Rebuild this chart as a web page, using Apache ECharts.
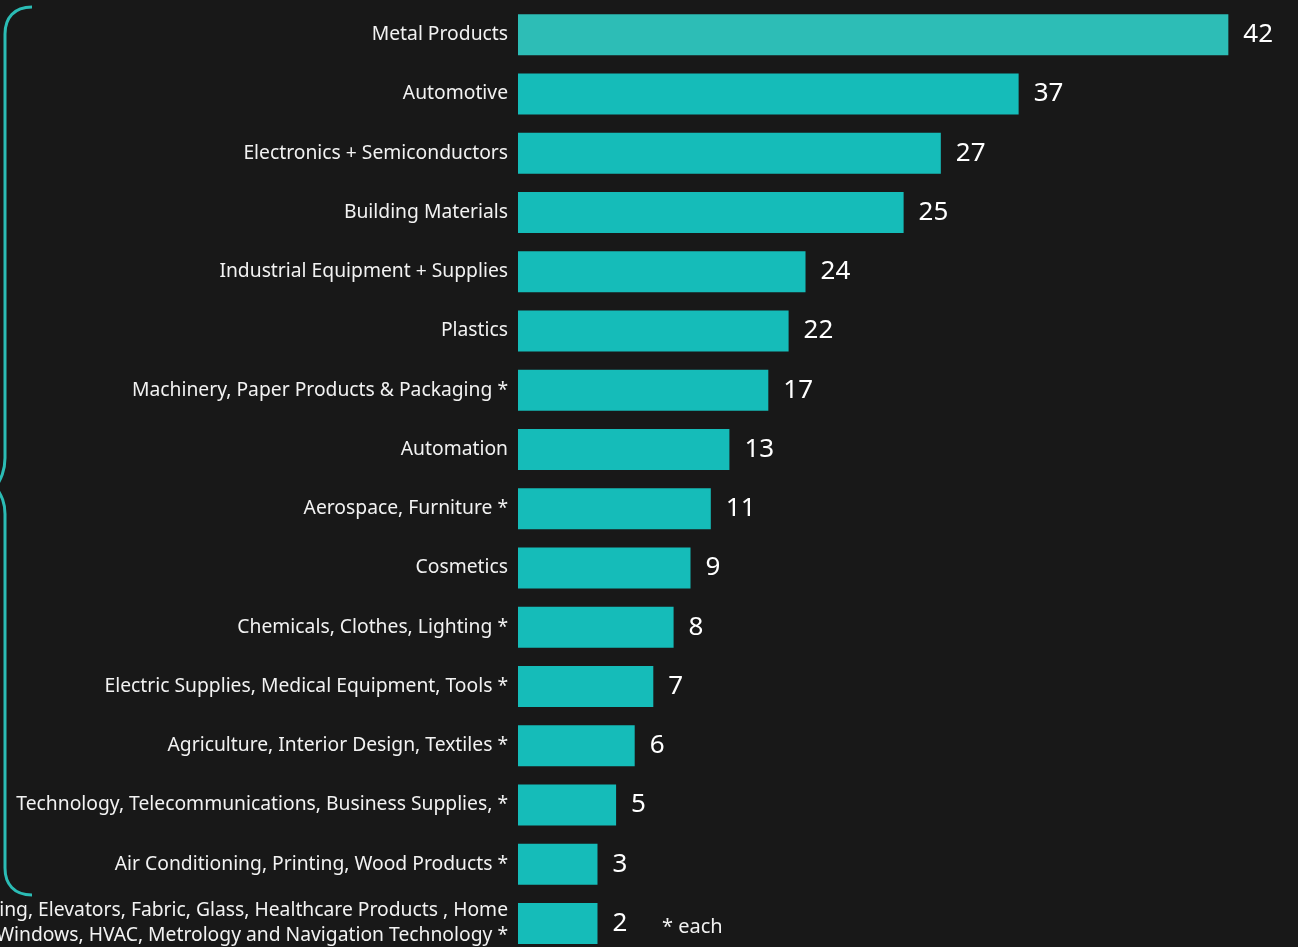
<!DOCTYPE html>
<html>
<head>
<meta charset="utf-8">
<script src="https://cdn.jsdelivr.net/npm/echarts@6/dist/echarts.min.js"></script>
<style>
html,body{margin:0;padding:0;background:#181818;}
#chart{width:1298px;height:947px;}
</style>
</head>
<body>
<div id="chart"></div>
<script>
// Categories (top to bottom)
const categories = [
  "Metal Products",
  "Automotive",
  "Electronics + Semiconductors",
  "Building Materials",
  "Industrial Equipment + Supplies",
  "Plastics",
  "Machinery, Paper Products & Packaging *",
  "Automation",
  "Aerospace, Furniture *",
  "Cosmetics",
  "Chemicals, Clothes, Lighting *",
  "Electric Supplies, Medical Equipment, Tools *",
  "Agriculture, Interior Design, Textiles *",
  "Technology, Telecommunications, Business Supplies, *",
  "Air Conditioning, Printing, Wood Products *",
  "Building, Elevators, Fabric, Glass, Healthcare Products , Home\nWindows, HVAC, Metrology and Navigation Technology *"
];
// Counts shown as value labels
const counts = [42, 37, 27, 25, 24, 22, 17, 13, 11, 9, 8, 7, 6, 5, 3, 2];
// Bar lengths as drawn in the picture (same units as counts, bars are not to scale)
const barLengths = [42, 29.6, 25.0, 22.8, 17.0, 16.0, 14.8, 12.5, 11.4, 10.2, 9.2, 8.0, 6.9, 5.8, 4.7, 4.7];
const footnote = "* each";

const chart = echarts.init(document.getElementById('chart'));
const teal = '#15bcb9';
const tealFirst = '#2dbdb6';
const braceColor = '#2bbcb5';

const data = barLengths.map((v, i) => ({
  value: v,
  itemStyle: { color: i === 0 ? tealFirst : teal },
  label: { formatter: String(counts[i]) }
}));

const font = '"Noto Sans", "Open Sans", sans-serif';

chart.setOption({
  backgroundColor: '#181818',
  animation: false,
  grid: { left: 518, right: 2, top: 5, bottom: -6, containLabel: false, outerBoundsMode: 'none' },
  xAxis: {
    type: 'value', min: 0, max: 46,
    show: false
  },
  yAxis: {
    type: 'category',
    inverse: true,
    data: categories,
    axisLine: { show: false },
    axisTick: { show: false },
    splitLine: { show: false },
    axisLabel: {
      color: '#f2f2f2',
      fontFamily: font,
      fontSize: 19.3,
      margin: 10,
      lineHeight: 25,
      align: 'right'
    }
  },
  series: [{
    type: 'bar',
    data: data,
    barWidth: 41,
    label: {
      show: true,
      position: 'right',
      distance: 15,
      color: '#ffffff',
      fontFamily: font,
      fontSize: 26
    }
  }],
  graphic: [
    { type: 'bezierCurve', shape: { x1: 32, y1: 7, cpx1: 14, cpy1: 7, cpx2: 5, cpy2: 18, x2: 5, y2: 34 },
      style: { stroke: braceColor, lineWidth: 3, fill: null } },
    { type: 'line', shape: { x1: 5, y1: 34, x2: 5, y2: 458 },
      style: { stroke: braceColor, lineWidth: 3 } },
    { type: 'bezierCurve', shape: { x1: 5, y1: 458, cpx1: 5, cpy1: 472, cpx2: 0, cpy2: 480, x2: -4, y2: 487 },
      style: { stroke: braceColor, lineWidth: 3, fill: null } },
    { type: 'bezierCurve', shape: { x1: -4, y1: 487, cpx1: 0, cpy1: 494, cpx2: 5, cpy2: 500, x2: 5, y2: 514 },
      style: { stroke: braceColor, lineWidth: 3, fill: null } },
    { type: 'line', shape: { x1: 5, y1: 514, x2: 5, y2: 868 },
      style: { stroke: braceColor, lineWidth: 3 } },
    { type: 'bezierCurve', shape: { x1: 5, y1: 868, cpx1: 5, cpy1: 884, cpx2: 14, cpy2: 895, x2: 32, y2: 895 },
      style: { stroke: braceColor, lineWidth: 3, fill: null } },
    { type: 'text', left: 662, top: 917,
      style: { text: footnote, fill: '#f2f2f2', font: '20px ' + font } }
  ]
});
</script>
</body>
</html>
